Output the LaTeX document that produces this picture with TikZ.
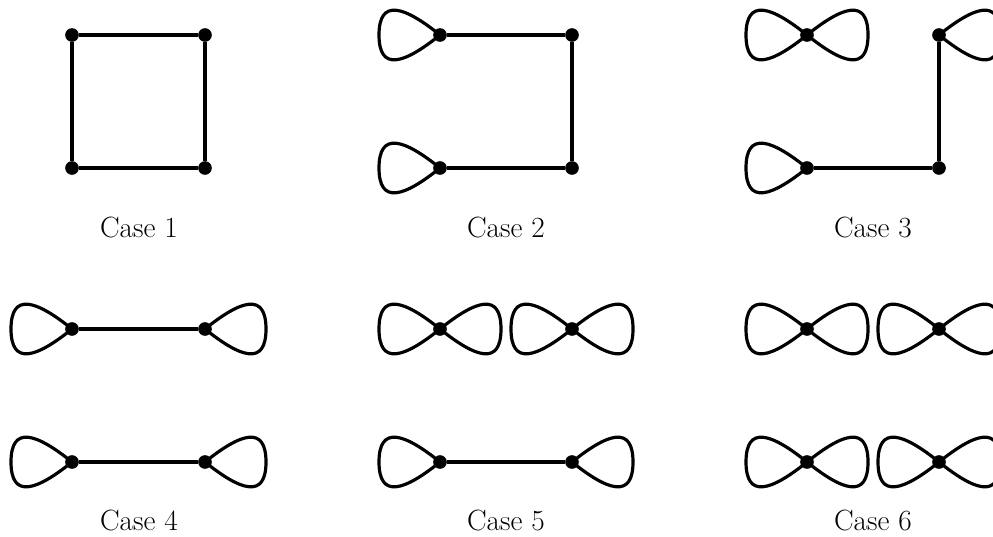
\documentclass[tikz,border=0pt]{standalone}
\begin{document}
\begin{tikzpicture}[x=0.03cm,y=-0.03cm,
  v/.style={circle,fill=black,inner sep=0pt,minimum size=0.41cm},
  edge/.style={line width=0.095cm},
  lbl/.style={font=\fontsize{25}{30}\selectfont, anchor=base, inner sep=0pt}]
\useasboundingbox (0,0) rectangle (993,536);
\clip (0,0) rectangle (993,536);
\newcommand\LoopL[1]{\draw[edge, shift={(#1.center)}] (0,0) .. controls (-36,-29) and (-61,-37) .. (-61,0) .. controls (-61,37) and (-36,29) .. (0,0);}
\newcommand\LoopR[1]{\draw[edge, shift={(#1.center)}] (0,0) .. controls (36,-29) and (61,-37) .. (61,0) .. controls (61,37) and (36,29) .. (0,0);}
% Case 1
\node[v] (a1) at (72,35) {};
\node[v] (b1) at (205,35) {};
\node[v] (c1) at (72,168) {};
\node[v] (d1) at (205,168) {};
\draw[edge] (a1) -- (b1) -- (d1) -- (c1) -- (a1);
\node[lbl] (l1) at (139,237) {Case 1};
% Case 2
\node[v] (a2) at (440,35) {};
\node[v] (b2) at (572,35) {};
\node[v] (c2) at (440,168) {};
\node[v] (d2) at (572,168) {};
\draw[edge] (a2) -- (b2) -- (d2) -- (c2);
\LoopL{a2}
\LoopL{c2}
\node[lbl] (l2) at (506,237) {Case 2};
% Case 3
\node[v] (a3) at (807,35) {};
\node[v] (b3) at (939,35) {};
\node[v] (c3) at (807,168) {};
\node[v] (d3) at (939,168) {};
\draw[edge] (b3) -- (d3) -- (c3);
\LoopL{a3}
\LoopR{a3}
\LoopR{b3}
\LoopL{c3}
\node[lbl] (l3) at (873,237) {Case 3};
% Case 4
\node[v] (a4) at (72,329) {};
\node[v] (b4) at (205,329) {};
\node[v] (c4) at (72,462) {};
\node[v] (d4) at (205,462) {};
\draw[edge] (a4) -- (b4);
\draw[edge] (c4) -- (d4);
\LoopL{a4}
\LoopR{b4}
\LoopL{c4}
\LoopR{d4}
\node[lbl] (l4) at (139,530) {Case 4};
% Case 5
\node[v] (a5) at (440,329) {};
\node[v] (b5) at (572,329) {};
\node[v] (c5) at (440,462) {};
\node[v] (d5) at (572,462) {};
\draw[edge] (c5) -- (d5);
\LoopL{a5}
\LoopR{a5}
\LoopL{b5}
\LoopR{b5}
\LoopL{c5}
\LoopR{d5}
\node[lbl] (l5) at (506,530) {Case 5};
% Case 6
\node[v] (a6) at (807,329) {};
\node[v] (b6) at (939,329) {};
\node[v] (c6) at (807,462) {};
\node[v] (d6) at (939,462) {};
\LoopL{a6}
\LoopR{a6}
\LoopL{b6}
\LoopR{b6}
\LoopL{c6}
\LoopR{c6}
\LoopL{d6}
\LoopR{d6}
\node[lbl] (l6) at (873,530) {Case 6};
\end{tikzpicture}
\end{document}
